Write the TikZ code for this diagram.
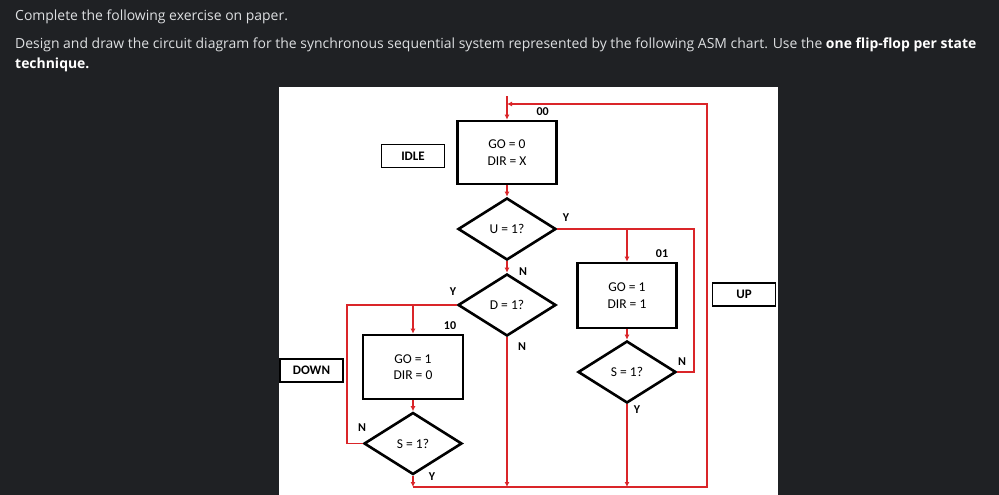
\documentclass[tikz,border=0pt]{standalone}
\usepackage{fontspec}
\setmainfont{Open Sans}
\newfontfamily\calfont{Carlito}
\usetikzlibrary{arrows.meta,shapes.geometric}
\definecolor{bgdark}{RGB}{31,33,36}
\definecolor{txtgrey}{RGB}{222,224,226}
\definecolor{flowred}{RGB}{218,37,41}
\begin{document}
\begin{tikzpicture}[x=1pt,y=-1pt,
  headline/.style={anchor=base west, text=txtgrey, inner sep=0, font=\fontsize{13.95}{16}\selectfont},
  statebox/.style={draw=black, line width=2.6pt, inner sep=0, align=center, font=\calfont\fontsize{13.5}{16.5}\selectfont},
  decision/.style={diamond, draw=black, line width=2.6pt, minimum width=98pt, minimum height=62pt, inner sep=0, font=\calfont\fontsize{13.5}{15}\selectfont},
  namebox/.style={draw=black, line width=1.2pt, minimum width=63pt, minimum height=23pt, inner sep=0, font=\calfont\bfseries\fontsize{13}{15}\selectfont},
  flow/.style={draw=flowred, line width=1.8pt},
  arr/.style={-{Latex[length=5pt,width=5pt]}},
  lbl/.style={inner sep=0, font=\calfont\bfseries\fontsize{12}{13}\selectfont}]
\fill[bgdark] (0,0) rectangle (999,495);
\useasboundingbox (0,0) rectangle (999,495);
\fill[white] (279,87) rectangle (778,495);

\node[headline] (l1) at (15,20.7) {Complete the following exercise on paper.};
\node[headline] (l2) at (15,49) {Design and draw the circuit diagram for the synchronous sequential system represented by the following ASM chart. Use the \textcolor{white}{\bfseries one flip-flop per state}};
\node[headline] (l3) at (15,69) {\textcolor{white}{\bfseries technique.}};

% state boxes and decisions
\node[statebox, minimum width=99pt, minimum height=63pt] (s0) at (507,152.5) {GO = 0\\DIR = X};
\node[decision] (u) at (507,229) {U = 1?};
\node[decision] (d) at (507,305) {D = 1?};
\node[statebox, minimum width=99pt, minimum height=65pt] (s1) at (627,295.5) {GO = 1\\DIR = 1};
\node[decision] (sr) at (627,372) {S = 1?};
\node[statebox, minimum width=100pt, minimum height=64pt] (s2) at (413,367) {GO = 1\\DIR = 0};
\node[decision] (sl) at (413,443.5) {S = 1?};

\node[namebox] (idle) at (413,156) {IDLE};
\node[namebox] (up) at (744,294.5) {UP};
\node[namebox] (down) at (311.5,370.5) {DOWN};

% helper points
\coordinate (entry) at (507,96);
\coordinate (topj) at (507,104);
\coordinate (rt) at (707,104);
\coordinate (br) at (707,487);
\coordinate (bl) at (413,487);
\coordinate (bm) at (507,487);
\coordinate (bs) at (627,487);
\coordinate (uyc) at (694,229);
\coordinate (uyj) at (627,229);
\coordinate (snc) at (694,372);
\coordinate (dyc) at (347,305);
\coordinate (dyj) at (413,305);
\coordinate (snl) at (347,443.5);

% connectors
\draw[flow,arr] (entry) -- (s0.north);
\draw[flow,arr] (s0.south) -- (u.north);
\draw[flow,arr] (u.south) -- (d.north);
\draw[flow] (u.east) -- (uyc) -- (snc) -- (sr.east);
\draw[flow,arr] (uyj) -- (s1.north);
\draw[flow,arr] (s1.south) -- (sr.north);
\draw[flow] (d.west) -- (dyc) -- (snl) -- (sl.west);
\draw[flow,arr] (dyj) -- (s2.north);
\draw[flow,arr] (s2.south) -- (sl.north);
\draw[flow,arr] (sl.south) -- (bl);
\draw[flow,arr] (d.south) -- (bm);
\draw[flow,arr] (sr.south) -- (bs);
\draw[flow,arr] (bl) -- (br) -- (rt) -- (topj);

% labels
\node[lbl] (c00) at (542.7,111.7) {00};
\node[lbl] (uy) at (566,218) {Y};
\node[lbl] (un) at (523,272) {N};
\node[lbl] (c01) at (662,254) {01};
\node[lbl] (dy) at (453,292) {Y};
\node[lbl] (c10) at (450,326) {10};
\node[lbl] (dn) at (522,347) {N};
\node[lbl] (srn) at (682,362) {N};
\node[lbl] (sln) at (362,428) {N};
\node[lbl] (sly) at (432,477) {Y};
\node[lbl] (sry) at (637,410) {Y};
\end{tikzpicture}
\end{document}
